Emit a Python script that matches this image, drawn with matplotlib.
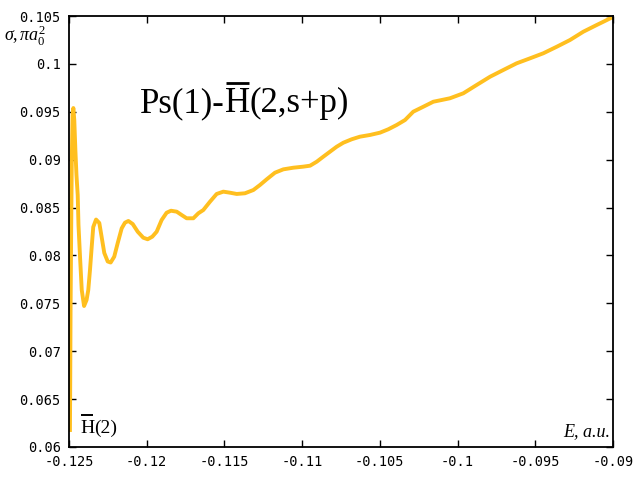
import matplotlib
matplotlib.use("Agg")
import matplotlib.pyplot as plt
from matplotlib.lines import Line2D

# Energy (a.u.) and cross section (pi a0^2)
energy = [-0.12494, -0.12492, -0.12490, -0.12486, -0.12482, -0.12477, -0.12472,
          -0.12466, -0.12459, -0.12452, -0.12444, -0.12439, -0.12429, -0.12418,
          -0.12403, -0.12387, -0.12376, -0.12365, -0.12354, -0.12344, -0.12326,
          -0.12305, -0.12290, -0.12273, -0.12251, -0.12232, -0.12209, -0.12187,
          -0.12161, -0.12140, -0.12118, -0.12090, -0.12058, -0.12022, -0.11994,
          -0.11964, -0.11936, -0.11904, -0.11872, -0.11844, -0.11807, -0.11775,
          -0.11743, -0.11700, -0.11668, -0.11636, -0.11593, -0.11550, -0.11507,
          -0.11464, -0.11421, -0.11368, -0.11314, -0.11271, -0.11228, -0.11175,
          -0.11121, -0.11057, -0.10993, -0.10949, -0.10906, -0.10864, -0.10821,
          -0.10778, -0.10735, -0.10681, -0.10628, -0.10563, -0.10499, -0.10446,
          -0.10392, -0.10338, -0.10285, -0.10220, -0.10156, -0.10102, -0.10049,
          -0.09963, -0.09877, -0.09791, -0.09706, -0.09620, -0.09534, -0.09448,
          -0.09362, -0.09277, -0.09191, -0.09105, -0.09052, -0.09000]
sigma = [0.06157, 0.06700, 0.07410, 0.08266, 0.08997, 0.09466, 0.09539,
         0.09414, 0.09101, 0.08840, 0.08631, 0.08318, 0.07984, 0.07639,
         0.07472, 0.07535, 0.07639, 0.07848, 0.08088, 0.08297, 0.08375,
         0.08339, 0.08193, 0.08026, 0.07937, 0.07926, 0.07987, 0.08127,
         0.08283, 0.08342, 0.08360, 0.08328, 0.08248, 0.08185, 0.08169,
         0.08196, 0.08248, 0.08370, 0.08446, 0.08467, 0.08457, 0.08422,
         0.08388, 0.08388, 0.08440, 0.08474, 0.08561, 0.08642, 0.08666,
         0.08655, 0.08642, 0.08649, 0.08683, 0.08736, 0.08795, 0.08864,
         0.08899, 0.08916, 0.08927, 0.08937, 0.08979, 0.09031, 0.09083,
         0.09135, 0.09177, 0.09213, 0.09240, 0.09258, 0.09282, 0.09317,
         0.09362, 0.09414, 0.09501, 0.09553, 0.09605, 0.09623, 0.09641,
         0.09693, 0.09780, 0.09866, 0.09936, 0.10006, 0.10058, 0.10111,
         0.10179, 0.10249, 0.10336, 0.10406, 0.10448, 0.10490]

xticks = [-0.125, -0.12, -0.115, -0.11, -0.105, -0.1, -0.095, -0.09]
xticklabels = ["-0.125", "-0.12", "-0.115", "-0.11", "-0.105", "-0.1", "-0.095", "-0.09"]
yticks = [0.06, 0.065, 0.07, 0.075, 0.08, 0.085, 0.09, 0.095, 0.1, 0.105]
yticklabels = ["0.06", "0.065", "0.07", "0.075", "0.08", "0.085", "0.09", "0.095", "0.1", "0.105"]

plt.rcParams['mathtext.fontset'] = 'custom'
plt.rcParams['mathtext.rm'] = 'Liberation Serif'
plt.rcParams['mathtext.it'] = 'Liberation Serif:italic'

W, H = 640, 480
fig = plt.figure(figsize=(6.4, 4.8), dpi=100)
ax = fig.add_axes([69 / W, 1 - 447 / H, (613 - 69) / W, (447 - 16) / H])

ax.plot(energy, sigma, color='#FFBF1F', lw=2.8, solid_joinstyle='round',
        solid_capstyle='butt')

ax.set_xlim(-0.125, -0.09)
ax.set_ylim(0.06, 0.105)
ax.set_xticks(xticks)
ax.set_xticklabels(xticklabels)
ax.set_yticks(yticks)
ax.set_yticklabels(yticklabels)
ax.tick_params(direction='in', length=5, width=1, top=True, right=True,
               labelsize=9.8, pad=6, colors='black')
for lab in ax.get_xticklabels() + ax.get_yticklabels():
    lab.set_fontfamily('DejaVu Sans Mono')
for sp in ax.spines.values():
    sp.set_linewidth(1.3)

def fx(px):
    return px / W

def fy(py):
    return 1 - py / H

# axis labels
fig.text(fx(4), fy(42), r'$\sigma,\pi a_0^2$', fontsize=13, ha='left', va='baseline')
fig.text(fx(610), fy(436), 'E, a.u.', fontsize=13, style='italic',
         family='Liberation Serif', ha='right', va='baseline')

renderer = fig.canvas.get_renderer()

def overline_text(x0, base_py, pieces, size, bar_py, bar_lw):
    x = x0
    for s, bar in pieces:
        t = fig.text(fx(x), fy(base_py), s, fontsize=size, family='Liberation Serif',
                     ha='left', va='baseline')
        bb = t.get_window_extent(renderer)
        if bar:
            fig.add_artist(Line2D([fx(bb.x0 + 1), fx(bb.x1 - 1)], [fy(bar_py), fy(bar_py)],
                                  transform=fig.transFigure, color='black', lw=bar_lw,
                                  solid_capstyle='butt'))
        x = bb.x1

overline_text(140, 112, [("Ps(1)-", False), ("H", True), ("(2,s+p)", False)], 25, 83, 2.0)
overline_text(80, 433, [("H", True), ("(2)", False)], 14, 415, 1.4)

fig.savefig('out.png', dpi=100)
